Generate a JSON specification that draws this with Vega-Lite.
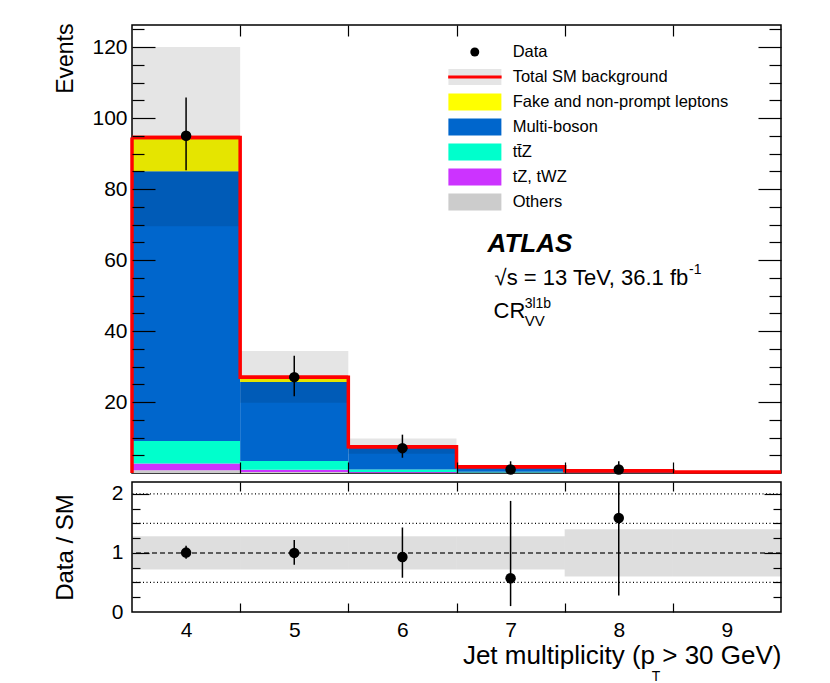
{
  "$schema": "https://vega.github.io/schema/vega-lite/v6.json",
  "background": "white",
  "padding": {"left": 52, "top": 22, "right": 5, "bottom": 0},
  "spacing": 0,
  "config": {
    "view": {"stroke": "black", "strokeWidth": 1.5},
    "font": "Liberation Sans",
    "axis": {
      "domain": false, "grid": false, "labelFlush": false, "labelOverlap": false,
      "labelFont": "Liberation Sans", "titleFont": "Liberation Sans",
      "labelColor": "black", "titleColor": "black", "tickColor": "black", "tickWidth": 1.2, "tickOpacity": 1,
      "titleFontWeight": "normal", "labelFontSize": 21, "titleFontSize": 23
    },
    "text": {"font": "Liberation Sans", "color": "black"}
  },
  "datasets": {
    "procs": [
      {"lo": 3.5, "hi": 4.5, "process": "Others", "o": 1, "events": 0.8},
      {"lo": 3.5, "hi": 4.5, "process": "tZ, tWZ", "o": 2, "events": 1.9},
      {"lo": 3.5, "hi": 4.5, "process": "tt\u0304Z", "o": 3, "events": 6.3},
      {"lo": 3.5, "hi": 4.5, "process": "Multi-boson", "o": 4, "events": 76.0},
      {"lo": 3.5, "hi": 4.5, "process": "Fake and non-prompt leptons", "o": 5, "events": 9.5},
      {"lo": 4.5, "hi": 5.5, "process": "Others", "o": 1, "events": 0.3},
      {"lo": 4.5, "hi": 5.5, "process": "tZ, tWZ", "o": 2, "events": 0.6},
      {"lo": 4.5, "hi": 5.5, "process": "tt\u0304Z", "o": 3, "events": 2.5},
      {"lo": 4.5, "hi": 5.5, "process": "Multi-boson", "o": 4, "events": 22.2},
      {"lo": 4.5, "hi": 5.5, "process": "Fake and non-prompt leptons", "o": 5, "events": 1.4},
      {"lo": 5.5, "hi": 6.5, "process": "Others", "o": 1, "events": 0.1},
      {"lo": 5.5, "hi": 6.5, "process": "tZ, tWZ", "o": 2, "events": 0.2},
      {"lo": 5.5, "hi": 6.5, "process": "tt\u0304Z", "o": 3, "events": 0.7},
      {"lo": 5.5, "hi": 6.5, "process": "Multi-boson", "o": 4, "events": 6.3},
      {"lo": 5.5, "hi": 6.5, "process": "Fake and non-prompt leptons", "o": 5, "events": 0.1},
      {"lo": 6.5, "hi": 7.5, "process": "Others", "o": 1, "events": 0.05},
      {"lo": 6.5, "hi": 7.5, "process": "tZ, tWZ", "o": 2, "events": 0.1},
      {"lo": 6.5, "hi": 7.5, "process": "tt\u0304Z", "o": 3, "events": 0.2},
      {"lo": 6.5, "hi": 7.5, "process": "Multi-boson", "o": 4, "events": 1.3},
      {"lo": 6.5, "hi": 7.5, "process": "Fake and non-prompt leptons", "o": 5, "events": 0.1},
      {"lo": 7.5, "hi": 8.5, "process": "Others", "o": 1, "events": 0.02},
      {"lo": 7.5, "hi": 8.5, "process": "tZ, tWZ", "o": 2, "events": 0.03},
      {"lo": 7.5, "hi": 8.5, "process": "tt\u0304Z", "o": 3, "events": 0.08},
      {"lo": 7.5, "hi": 8.5, "process": "Multi-boson", "o": 4, "events": 0.5},
      {"lo": 7.5, "hi": 8.5, "process": "Fake and non-prompt leptons", "o": 5, "events": 0.0},
      {"lo": 8.5, "hi": 9.5, "process": "Others", "o": 1, "events": 0.01},
      {"lo": 8.5, "hi": 9.5, "process": "tZ, tWZ", "o": 2, "events": 0.01},
      {"lo": 8.5, "hi": 9.5, "process": "tt\u0304Z", "o": 3, "events": 0.03},
      {"lo": 8.5, "hi": 9.5, "process": "Multi-boson", "o": 4, "events": 0.2},
      {"lo": 8.5, "hi": 9.5, "process": "Fake and non-prompt leptons", "o": 5, "events": 0.0}
    ],
    "bins": [
      {"nj": 4, "lo": 3.5, "hi": 4.5, "sm": 94.5, "sm_lo": 69.5, "sm_hi": 120.0, "data": 95, "d_lo": 85.3, "d_hi": 105.8, "ratio": 1.005, "r_lo": 0.90, "r_hi": 1.12, "rb_lo": 0.72, "rb_hi": 1.28},
      {"nj": 5, "lo": 4.5, "hi": 5.5, "sm": 27.0, "sm_lo": 19.8, "sm_hi": 34.4, "data": 27, "d_lo": 21.6, "d_hi": 33.0, "ratio": 1.0, "r_lo": 0.80, "r_hi": 1.22, "rb_lo": 0.72, "rb_hi": 1.28},
      {"nj": 6, "lo": 5.5, "hi": 6.5, "sm": 7.4, "sm_lo": 5.4, "sm_hi": 9.7, "data": 7, "d_lo": 4.3, "d_hi": 10.8, "ratio": 0.93, "r_lo": 0.58, "r_hi": 1.43, "rb_lo": 0.72, "rb_hi": 1.28},
      {"nj": 7, "lo": 6.5, "hi": 7.5, "sm": 1.75, "sm_lo": 1.26, "sm_hi": 2.24, "data": 1, "d_lo": 0.17, "d_hi": 3.3, "ratio": 0.57, "r_lo": 0.10, "r_hi": 1.88, "rb_lo": 0.72, "rb_hi": 1.28},
      {"nj": 8, "lo": 7.5, "hi": 8.5, "sm": 0.63, "sm_lo": 0.38, "sm_hi": 0.88, "data": 1, "d_lo": 0.17, "d_hi": 3.3, "ratio": 1.59, "r_lo": 0.28, "r_hi": 5.2, "rb_lo": 0.60, "rb_hi": 1.40},
      {"nj": 9, "lo": 8.5, "hi": 9.5, "sm": 0.25, "sm_lo": 0.15, "sm_hi": 0.35, "data": null, "d_lo": null, "d_hi": null, "ratio": null, "r_lo": null, "r_hi": null, "rb_lo": 0.60, "rb_hi": 1.40}
    ],
    "legend": [
      {"row": 0, "label": "Data"},
      {"row": 1, "label": "Total SM background"},
      {"row": 2, "label": "Fake and non-prompt leptons"},
      {"row": 3, "label": "Multi-boson"},
      {"row": 4, "label": "tt\u0304Z"},
      {"row": 5, "label": "tZ, tWZ"},
      {"row": 6, "label": "Others"}
    ]
  },
  "vconcat": [
    {
      "width": 649,
      "height": 448,
      "resolve": {"scale": {"y": "independent"}, "axis": {"x": "independent", "y": "independent"}},
      "layer": [
        {
          "data": {"name": "procs"},
          "transform": [
            {"stack": "events", "groupby": ["lo"], "sort": [{"field": "o", "order": "ascending"}], "as": ["y0", "y1"]}
          ],
          "mark": {"type": "bar", "strokeWidth": 0},
          "encoding": {
            "x": {"field": "lo", "type": "quantitative", "scale": {"domain": [3.5, 9.5], "nice": false, "zero": false}, "axis": null},
            "x2": {"field": "hi"},
            "y": {"field": "y0", "type": "quantitative", "scale": {"domain": [0, 126.2], "nice": false, "zero": false}, "axis": null},
            "y2": {"field": "y1"},
            "color": {
              "field": "process", "type": "nominal", "legend": null,
              "scale": {
                "domain": ["Fake and non-prompt leptons", "Multi-boson", "tt\u0304Z", "tZ, tWZ", "Others"],
                "range": ["#ffff00", "#0066cc", "#00ffcc", "#cc33ff", "#cccccc"]
              }
            }
          }
        },
        {
          "data": {"name": "bins"},
          "mark": {"type": "rect", "color": "black", "opacity": 0.1},
          "encoding": {
            "x": {"field": "lo", "type": "quantitative", "axis": null},
            "x2": {"field": "hi"},
            "y": {"field": "sm_lo", "type": "quantitative", "scale": {"domain": [0, 126.2], "nice": false, "zero": false}, "axis": null},
            "y2": {"field": "sm_hi"}
          }
        },
        {
          "data": {"name": "bins"},
          "mark": {"type": "line", "color": "#ff0000", "strokeWidth": 3.5, "interpolate": "step-after"},
          "encoding": {
            "x": {"field": "lo", "type": "quantitative", "axis": null},
            "y": {"field": "sm", "type": "quantitative", "scale": {"domain": [0, 126.2], "nice": false, "zero": false}, "axis": null}
          }
        },
        {
          "data": {"name": "bins"},
          "mark": {"type": "rule", "color": "#ff0000", "strokeWidth": 3.5},
          "encoding": {
            "x": {"field": "lo", "type": "quantitative", "axis": null},
            "x2": {"field": "hi"},
            "y": {"field": "sm", "type": "quantitative", "scale": {"domain": [0, 126.2], "nice": false, "zero": false}, "axis": null}
          }
        },
        {
          "data": {"name": "bins"},
          "transform": [{"filter": "datum.nj == 4"}],
          "mark": {"type": "rule", "color": "#ff0000", "strokeWidth": 3.5},
          "encoding": {
            "x": {"field": "lo", "type": "quantitative", "axis": null},
            "y": {"field": "sm", "type": "quantitative", "scale": {"domain": [0, 126.2], "nice": false, "zero": false}, "axis": null},
            "y2": {"datum": 0}
          }
        },
        {
          "data": {"name": "bins"},
          "transform": [{"filter": "datum.data != null"}],
          "mark": {"type": "rule", "color": "black", "strokeWidth": 1.5},
          "encoding": {
            "x": {"field": "nj", "type": "quantitative", "axis": null},
            "y": {"field": "d_lo", "type": "quantitative", "scale": {"domain": [0, 126.2], "nice": false, "zero": false}, "axis": null},
            "y2": {"field": "d_hi"}
          }
        },
        {
          "data": {"name": "bins"},
          "transform": [{"filter": "datum.data != null"}],
          "mark": {"type": "point", "filled": true, "color": "black", "opacity": 1, "size": 110},
          "encoding": {
            "x": {"field": "nj", "type": "quantitative", "axis": null},
            "y": {"field": "data", "type": "quantitative", "scale": {"domain": [0, 126.2], "nice": false, "zero": false}, "axis": null}
          }
        },
        {
          "data": {"values": [{}]},
          "mark": {"type": "text", "text": "ATLAS", "align": "left", "baseline": "alphabetic", "fontSize": 26, "fontWeight": "bold", "fontStyle": "italic"},
          "encoding": {
            "x": {"datum": 6.787, "type": "quantitative", "axis": null},
            "y": {"datum": 62.3, "type": "quantitative", "scale": {"domain": [0, 126.2], "nice": false, "zero": false}, "axis": null}
          }
        },
        {
          "data": {"values": [{}]},
          "mark": {"type": "text", "text": "\u221as = 13 TeV, 36.1 fb", "align": "left", "baseline": "alphabetic", "fontSize": 22},
          "encoding": {
            "x": {"datum": 6.852, "type": "quantitative", "axis": null},
            "y": {"datum": 52.9, "type": "quantitative", "scale": {"domain": [0, 126.2], "nice": false, "zero": false}, "axis": null}
          }
        },
        {
          "data": {"values": [{}]},
          "mark": {"type": "text", "text": "-1", "align": "left", "baseline": "alphabetic", "fontSize": 14},
          "encoding": {
            "x": {"datum": 8.65, "type": "quantitative", "axis": null},
            "y": {"datum": 56.1, "type": "quantitative", "scale": {"domain": [0, 126.2], "nice": false, "zero": false}, "axis": null}
          }
        },
        {
          "data": {"values": [{}]},
          "mark": {"type": "text", "text": "CR", "align": "left", "baseline": "alphabetic", "fontSize": 22},
          "encoding": {
            "x": {"datum": 6.843, "type": "quantitative", "axis": null},
            "y": {"datum": 43.7, "type": "quantitative", "scale": {"domain": [0, 126.2], "nice": false, "zero": false}, "axis": null}
          }
        },
        {
          "data": {"values": [{}]},
          "mark": {"type": "text", "text": "3l1b", "align": "left", "baseline": "alphabetic", "fontSize": 14},
          "encoding": {
            "x": {"datum": 7.13, "type": "quantitative", "axis": null},
            "y": {"datum": 46.6, "type": "quantitative", "scale": {"domain": [0, 126.2], "nice": false, "zero": false}, "axis": null}
          }
        },
        {
          "data": {"values": [{}]},
          "mark": {"type": "text", "text": "VV", "align": "left", "baseline": "alphabetic", "fontSize": 15},
          "encoding": {
            "x": {"datum": 7.13, "type": "quantitative", "axis": null},
            "y": {"datum": 41.4, "type": "quantitative", "scale": {"domain": [0, 126.2], "nice": false, "zero": false}, "axis": null}
          }
        },
        {
          "data": {"name": "legend"},
          "transform": [{"filter": "datum.row == 0"}],
          "mark": {"type": "point", "filled": true, "color": "black", "opacity": 1, "size": 80},
          "encoding": {
            "x": {"datum": 6.669, "type": "quantitative", "axis": null},
            "y": {"field": "row", "type": "quantitative", "scale": {"domain": [-1.08, 16.84], "reverse": true, "nice": false, "zero": false}, "axis": null}
          }
        },
        {
          "data": {"name": "legend"},
          "transform": [{"filter": "datum.row == 1"}],
          "mark": {"type": "point", "filled": true, "color": "black", "opacity": 0.1, "strokeWidth": 0, "shape": "M-1,-0.3H1V0.3H-1Z", "size": 2809},
          "encoding": {
            "x": {"datum": 6.67, "type": "quantitative", "axis": null},
            "y": {"field": "row", "type": "quantitative", "scale": {"domain": [-1.08, 16.84], "reverse": true, "nice": false, "zero": false}, "axis": null}
          }
        },
        {
          "data": {"name": "legend"},
          "transform": [{"filter": "datum.row == 1"}],
          "mark": {"type": "rule", "color": "#ff0000", "strokeWidth": 3},
          "encoding": {
            "x": {"datum": 6.423, "type": "quantitative", "axis": null},
            "x2": {"datum": 6.917},
            "y": {"field": "row", "type": "quantitative", "scale": {"domain": [-1.08, 16.84], "reverse": true, "nice": false, "zero": false}, "axis": null}
          }
        },
        {
          "data": {"name": "legend"},
          "transform": [{"filter": "datum.row >= 2"}],
          "mark": {"type": "point", "filled": true, "opacity": 1, "strokeWidth": 0, "shape": "M-1,-0.32H1V0.32H-1Z", "size": 2809},
          "encoding": {
            "x": {"datum": 6.67, "type": "quantitative", "axis": null},
            "y": {"field": "row", "type": "quantitative", "scale": {"domain": [-1.08, 16.84], "reverse": true, "nice": false, "zero": false}, "axis": null},
            "color": {
              "field": "label", "type": "nominal", "legend": null,
              "scale": {
                "domain": ["Fake and non-prompt leptons", "Multi-boson", "tt\u0304Z", "tZ, tWZ", "Others"],
                "range": ["#ffff00", "#0066cc", "#00ffcc", "#cc33ff", "#cccccc"]
              }
            }
          }
        },
        {
          "data": {"name": "legend"},
          "mark": {"type": "text", "align": "left", "baseline": "middle", "fontSize": 16.5},
          "encoding": {
            "x": {"datum": 7.019, "type": "quantitative", "axis": null},
            "y": {"field": "row", "type": "quantitative", "scale": {"domain": [-1.08, 16.84], "reverse": true, "nice": false, "zero": false}, "axis": null},
            "text": {"field": "label", "type": "nominal"}
          }
        },
        {
          "data": {"values": [{}]},
          "mark": {"type": "point", "opacity": 0},
          "encoding": {
            "x": {"datum": 5, "type": "quantitative", "axis": {"orient": "bottom", "values": [4.5, 5.5, 6.5, 7.5, 8.5], "tickSize": 11, "offset": -11, "labels": false, "zindex": 2, "title": null}},
            "y": {"datum": 0, "type": "quantitative", "scale": {"domain": [0, 126.2], "nice": false, "zero": false}, "axis": {"orient": "left", "values": [20, 40, 60, 80, 100, 120], "ticks": false, "labelPadding": 5, "title": "Events", "titleX": -66.7, "titleY": -2, "titleAlign": "right", "titleAngle": -90, "titleBaseline": "middle", "titleFontSize": 23}}
          }
        },
        {
          "data": {"values": [{}]},
          "mark": {"type": "point", "opacity": 0},
          "encoding": {
            "x": {"datum": 5, "type": "quantitative", "axis": {"orient": "top", "values": [4.5, 5.5, 6.5, 7.5, 8.5], "tickSize": 11, "offset": -11, "labels": false, "zindex": 2, "title": null}},
            "y": {"datum": 0, "type": "quantitative", "scale": {"domain": [0, 126.2], "nice": false, "zero": false}, "axis": {"orient": "left", "values": [20, 40, 60, 80, 100, 120], "tickSize": 23, "offset": -23, "labels": false, "zindex": 2, "title": null}}
          }
        },
        {
          "data": {"values": [{}]},
          "mark": {"type": "point", "opacity": 0},
          "encoding": {
            "y": {"datum": 0, "type": "quantitative", "scale": {"domain": [0, 126.2], "nice": false, "zero": false}, "axis": {"orient": "left", "values": [5, 10, 15, 25, 30, 35, 45, 50, 55, 65, 70, 75, 85, 90, 95, 105, 110, 115, 125], "tickSize": 12, "offset": -12, "labels": false, "zindex": 2, "title": null}}
          }
        },
        {
          "data": {"values": [{}]},
          "mark": {"type": "point", "opacity": 0},
          "encoding": {
            "y": {"datum": 0, "type": "quantitative", "scale": {"domain": [0, 126.2], "nice": false, "zero": false}, "axis": {"orient": "right", "values": [20, 40, 60, 80, 100, 120], "tickSize": 23, "offset": -23, "labels": false, "zindex": 2, "title": null}}
          }
        },
        {
          "data": {"values": [{}]},
          "mark": {"type": "point", "opacity": 0},
          "encoding": {
            "y": {"datum": 0, "type": "quantitative", "scale": {"domain": [0, 126.2], "nice": false, "zero": false}, "axis": {"orient": "right", "values": [5, 10, 15, 25, 30, 35, 45, 50, 55, 65, 70, 75, 85, 90, 95, 105, 110, 115, 125], "tickSize": 12, "offset": -12, "labels": false, "zindex": 2, "title": null}}
          }
        }
      ]
    },
    {
      "width": 649,
      "height": 130,
      "resolve": {"axis": {"x": "independent", "y": "independent"}},
      "layer": [
        {
          "data": {"name": "bins"},
          "mark": {"type": "rect", "color": "black", "opacity": 0.13},
          "encoding": {
            "x": {"field": "lo", "type": "quantitative", "scale": {"domain": [3.5, 9.5], "nice": false, "zero": false}, "axis": null},
            "x2": {"field": "hi"},
            "y": {"field": "rb_lo", "type": "quantitative", "scale": {"domain": [0, 2.2], "nice": false, "zero": false}, "axis": null},
            "y2": {"field": "rb_hi"}
          }
        },
        {
          "data": {"values": [{"ref": 0.5}, {"ref": 1.5}, {"ref": 2.0}]},
          "mark": {"type": "rule", "color": "black", "strokeWidth": 1.2, "strokeDash": [1, 2.5]},
          "encoding": {
            "y": {"field": "ref", "type": "quantitative", "axis": null}
          }
        },
        {
          "data": {"values": [{"ref": 1.0}]},
          "mark": {"type": "rule", "color": "#333333", "strokeWidth": 1.5, "strokeDash": [5, 3]},
          "encoding": {
            "y": {"field": "ref", "type": "quantitative", "axis": null}
          }
        },
        {
          "data": {"name": "bins"},
          "transform": [{"filter": "datum.ratio != null"}],
          "mark": {"type": "rule", "color": "black", "strokeWidth": 1.5, "clip": true},
          "encoding": {
            "x": {"field": "nj", "type": "quantitative", "axis": null},
            "y": {"field": "r_lo", "type": "quantitative", "axis": null},
            "y2": {"field": "r_hi"}
          }
        },
        {
          "data": {"name": "bins"},
          "transform": [{"filter": "datum.ratio != null"}],
          "mark": {"type": "point", "filled": true, "color": "black", "opacity": 1, "size": 110},
          "encoding": {
            "x": {"field": "nj", "type": "quantitative", "axis": null},
            "y": {"field": "ratio", "type": "quantitative", "axis": null}
          }
        },
        {
          "data": {"values": [{}]},
          "mark": {"type": "text", "text": "T", "align": "left", "baseline": "alphabetic", "fontSize": 14},
          "encoding": {
            "x": {"datum": 8.306, "type": "quantitative", "axis": null},
            "y": {"datum": -1.175, "type": "quantitative", "axis": null}
          }
        },
        {
          "data": {"values": [{}]},
          "mark": {"type": "point", "opacity": 0},
          "encoding": {
            "x": {"datum": 5, "type": "quantitative", "axis": {"orient": "bottom", "values": [4, 5, 6, 7, 8, 9], "ticks": false, "labelPadding": 7, "format": "d", "title": "Jet multiplicity (p   > 30 GeV)", "titleFontSize": 26, "titleAlign": "right", "titleAnchor": "end", "titleX": 649, "titleY": 51, "titleBaseline": "alphabetic"}},
            "y": {"datum": 0, "type": "quantitative", "axis": {"orient": "left", "values": [0, 1, 2], "ticks": false, "labelPadding": 9, "format": "d", "title": "Data / SM", "titleX": -66.7, "titleAngle": -90, "titleBaseline": "middle", "titleFontSize": 24}}
          }
        },
        {
          "data": {"values": [{}]},
          "mark": {"type": "point", "opacity": 0},
          "encoding": {
            "x": {"datum": 5, "type": "quantitative", "axis": {"orient": "bottom", "values": [4.5, 5.5, 6.5, 7.5, 8.5], "tickSize": 9, "offset": -9, "labels": false, "zindex": 2, "title": null}},
            "y": {"datum": 0, "type": "quantitative", "axis": {"orient": "left", "values": [1, 2], "tickSize": 17, "offset": -17, "labels": false, "zindex": 2, "title": null}}
          }
        },
        {
          "data": {"values": [{}]},
          "mark": {"type": "point", "opacity": 0},
          "encoding": {
            "x": {"datum": 5, "type": "quantitative", "axis": {"orient": "top", "values": [4.5, 5.5, 6.5, 7.5, 8.5], "tickSize": 9, "offset": -9, "labels": false, "zindex": 2, "title": null}},
            "y": {"datum": 0, "type": "quantitative", "axis": {"orient": "left", "values": [0.25, 0.5, 0.75, 1.25, 1.5, 1.75], "tickSize": 8, "offset": -8, "labels": false, "zindex": 2, "title": null}}
          }
        },
        {
          "data": {"values": [{}]},
          "mark": {"type": "point", "opacity": 0},
          "encoding": {
            "y": {"datum": 0, "type": "quantitative", "axis": {"orient": "right", "values": [1, 2], "tickSize": 17, "offset": -17, "labels": false, "zindex": 2, "title": null}}
          }
        },
        {
          "data": {"values": [{}]},
          "mark": {"type": "point", "opacity": 0},
          "encoding": {
            "y": {"datum": 0, "type": "quantitative", "axis": {"orient": "right", "values": [0.25, 0.5, 0.75, 1.25, 1.5, 1.75], "tickSize": 8, "offset": -8, "labels": false, "zindex": 2, "title": null}}
          }
        }
      ]
    }
  ]
}
